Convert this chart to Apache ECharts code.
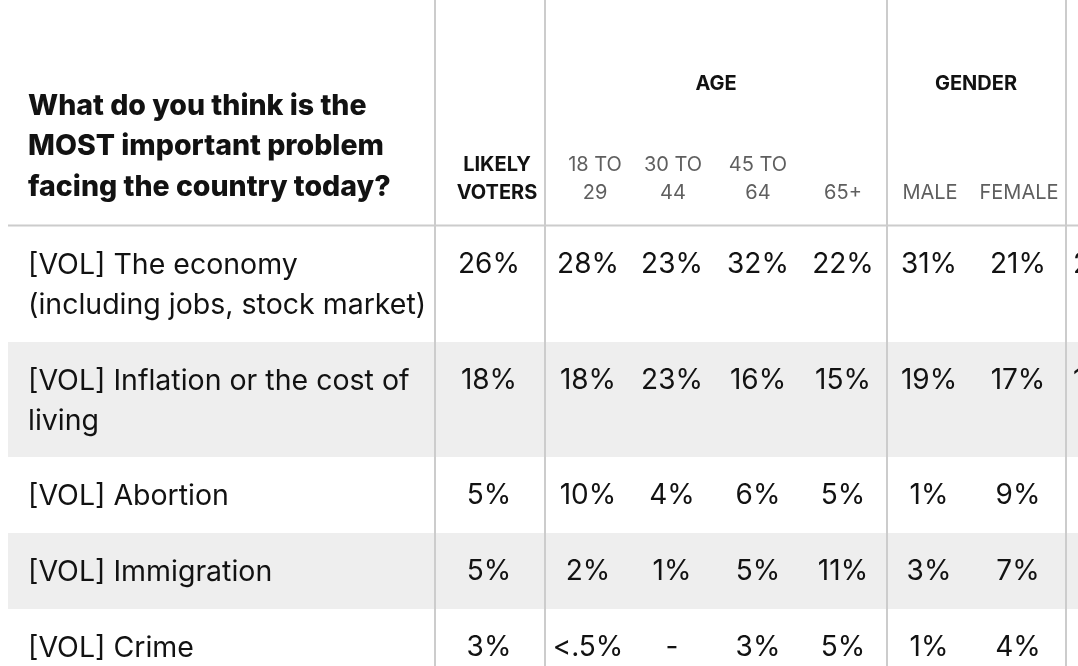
<!DOCTYPE html>
<html><head><meta charset="utf-8">
<script src="https://cdn.jsdelivr.net/npm/echarts@6/dist/echarts.min.js"></script>
<style>html,body{margin:0;padding:0;background:#fff;overflow:hidden}#c{width:1078px;height:666px}</style>
</head><body><div id="c"></div>
<script>
// ---- data ----
const question = "What do you think is the\nMOST important problem\nfacing the country today?";
const categories = [
  "[VOL] The economy\n(including jobs, stock market)",
  "[VOL] Inflation or the cost of\nliving",
  "[VOL] Abortion",
  "[VOL] Immigration",
  "[VOL] Crime"
];
const columnLabels = ["LIKELY\nVOTERS", "18 TO\n29", "30 TO\n44", "45 TO\n64", "65+", "MALE", "FEMALE"];
const groupLabels = ["AGE", "GENDER"];
const likelyVoters = ["26%", "18%", "5%", "5%", "3%"];
const age18to29   = ["28%", "18%", "10%", "2%", "<.5%"];
const age30to44   = ["23%", "23%", "4%", "1%", "-"];
const age45to64   = ["32%", "16%", "6%", "5%", "3%"];
const age65plus   = ["22%", "15%", "5%", "11%", "5%"];
const male        = ["31%", "19%", "1%", "3%", "1%"];
const female      = ["21%", "17%", "9%", "7%", "4%"];
const clippedNext = ["2", "1", "", "", ""];   // next column, cut off at the right edge

// ---- layout ----
const W = 1078, H = 666;
const columns = [likelyVoters, age18to29, age30to44, age45to64, age65plus, male, female, clippedNext];
const colX = [489, 588, 672, 758, 843, 929, 1018, 1073];
const colHeadX = [497, 595, 673, 758, 843, 930, 1019];
const groupX = [716, 976];
const rowTop = [226, 342, 457, 533, 609];
const rowBottom = [342, 457, 533, 609, 700];
const dividers = [435, 545, 887, 1066];
const headerLineY = 225;
const FONT = "Inter, Roboto, 'Liberation Sans', sans-serif";

const chart = echarts.init(document.getElementById('c'), null, {renderer: 'canvas'});

const cells = [];
columns.forEach((col, c) => col.forEach((v, r) => cells.push([r, c])));

chart.setOption({
  animation: false,
  backgroundColor: '#fff',
  grid: {left: 0, right: 0, top: 0, bottom: 0},
  xAxis: {type: 'value', min: 0, max: W, show: false},
  yAxis: {type: 'value', min: 0, max: H, inverse: true, show: false},
  series: [
    { // row bands
      type: 'custom', clip: false, silent: true, z: 1,
      data: categories.map((_, i) => [i]),
      renderItem: (params, api) => {
        const r = api.value(0);
        if (r % 2 === 0) return null;
        const p0 = api.coord([8, rowTop[r]]);
        const p1 = api.coord([W, rowBottom[r]]);
        return {type: 'rect', shape: {x: p0[0], y: p0[1], width: p1[0] - p0[0], height: p1[1] - p0[1]}, style: {fill: '#eeeeee'}};
      }
    },
    { // grid lines
      type: 'custom', clip: false, silent: true, z: 2,
      data: dividers.map((_, i) => [i]).concat([[-1]]),
      renderItem: (params, api) => {
        const i = api.value(0);
        if (i < 0) {
          const a = api.coord([8, headerLineY]), b = api.coord([W, headerLineY]);
          return {type: 'line', shape: {x1: a[0], y1: a[1] + 0.5, x2: b[0], y2: b[1] + 0.5}, style: {stroke: '#cccccc', lineWidth: 2}};
        }
        const a = api.coord([dividers[i], 0]), b = api.coord([dividers[i], H]);
        return {type: 'line', shape: {x1: a[0], y1: a[1], x2: b[0], y2: b[1]}, style: {stroke: '#cccccc', lineWidth: 2}};
      }
    },
    { // row labels
      type: 'custom', clip: false, silent: true, z: 3,
      data: categories.map((_, i) => [i]),
      renderItem: (params, api) => {
        const r = api.value(0);
        const p = api.coord([28, rowTop[r] + 19]);
        return {type: 'text', x: p[0], y: p[1], style: {text: categories[r], font: "400 28.5px " + FONT, fill: '#121212', textAlign: 'left', textVerticalAlign: 'top', lineHeight: 40}};
      }
    },
    { // value cells
      type: 'custom', clip: false, silent: true, z: 3,
      data: cells,
      renderItem: (params, api) => {
        const r = api.value(0), c = api.value(1);
        const p = api.coord([colX[c], rowTop[r] + 39]);
        return {type: 'text', x: p[0], y: p[1], style: {text: columns[c][r], font: "400 28px " + FONT, fill: '#121212', textAlign: c === 7 ? 'left' : 'center', textVerticalAlign: 'middle'}};
      }
    },
    { // column headers
      type: 'custom', clip: false, silent: true, z: 3,
      data: columnLabels.map((_, i) => [i]),
      renderItem: (params, api) => {
        const c = api.value(0);
        const p = api.coord([colHeadX[c], 207]);
        const bold = c === 0;
        return {type: 'text', x: p[0], y: p[1], style: {text: columnLabels[c], font: (bold ? "700 " : "400 ") + "20px " + FONT, fill: bold ? '#121212' : '#5f5f5f', textAlign: 'center', textVerticalAlign: 'bottom', lineHeight: 28}};
      }
    },
    { // group headers
      type: 'custom', clip: false, silent: true, z: 3,
      data: groupLabels.map((_, i) => [i]),
      renderItem: (params, api) => {
        const g = api.value(0);
        const p = api.coord([groupX[g], 84]);
        return {type: 'text', x: p[0], y: p[1], style: {text: groupLabels[g], font: "700 20px " + FONT, fill: '#121212', textAlign: 'center', textVerticalAlign: 'middle'}};
      }
    },
    { // question
      type: 'custom', clip: false, silent: true, z: 3,
      data: [[0]],
      renderItem: (params, api) => {
        const p = api.coord([28, 86]);
        return {type: 'text', x: p[0], y: p[1], style: {text: question, font: "800 28.5px " + FONT, fill: '#121212', textAlign: 'left', textVerticalAlign: 'top', lineHeight: 40.5}};
      }
    }
  ]
});
</script></body></html>
